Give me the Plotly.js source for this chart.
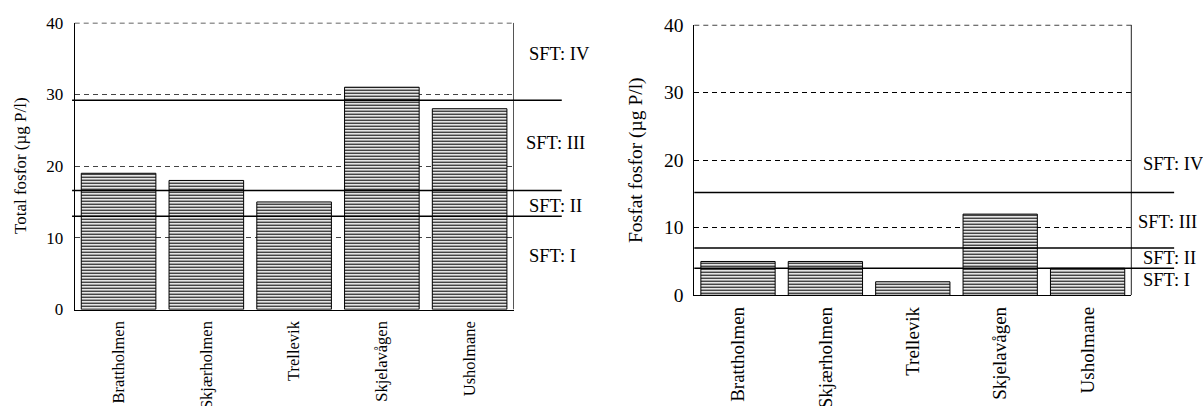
<!DOCTYPE html>
<html>
<head>
<meta charset="utf-8">
<script src="https://cdn.plot.ly/plotly-3.0.1.min.js"></script>
<style>
  html, body { margin: 0; padding: 0; background: #fff; }
  #chart { width: 1203px; height: 406px; }
</style>
</head>
<body>
<div id="chart"></div>
<script>
// ---- data ----
const categories = ['Brattholmen', 'Skjærholmen', 'Trellevik', 'Skjelavågen', 'Usholmane'];
const totalFosfor = [19, 18, 15, 31, 28];
const fosfatFosfor = [5, 5, 2, 12, 4];
const totalLimits = [13, 16.6, 29.2];
const fosfatLimits = [4, 7, 15.2];
const classLabels = ['SFT: I', 'SFT: II', 'SFT: III', 'SFT: IV'];
const yTicks = [0, 10, 20, 30, 40];

// ---- layout helpers (pixel -> paper) ----
const W = 1203, H = 406;
const px = v => v / W;
const py = v => 1 - v / H;

const FONT = '"Liberation Serif", "Times New Roman", Times, serif';

const pattern = {shape: '-', size: 3, solidity: 0.4, fgcolor: '#000', bgcolor: '#fff', fillmode: 'replace'};

const traces = [
  {
    type: 'bar', x: categories, y: totalFosfor, xaxis: 'x', yaxis: 'y',
    marker: {color: '#fff', line: {color: '#000', width: 1}, pattern: pattern},
    width: 0.85, hoverinfo: 'x+y', showlegend: false
  },
  {
    type: 'bar', x: categories, y: fosfatFosfor, xaxis: 'x2', yaxis: 'y2',
    marker: {color: '#fff', line: {color: '#000', width: 1}, pattern: pattern},
    width: 0.85, hoverinfo: 'x+y', showlegend: false
  }
];

const yMax = yTicks[yTicks.length - 1];
const shapes = [];
// frame: right edges and dashed top edges
shapes.push({type: 'line', xref: 'x domain', yref: 'y', x0: 1, x1: 1, y0: 0, y1: yMax, line: {color: '#555', width: 1}});
shapes.push({type: 'line', xref: 'x2 domain', yref: 'y2', x0: 1, x1: 1, y0: 0, y1: yMax, line: {color: '#222', width: 1}});
shapes.push({type: 'line', xref: 'x domain', yref: 'y', x0: 0, x1: 1, y0: yMax, y1: yMax, line: {color: '#333', width: 1.5, dash: '5px,4px'}});
shapes.push({type: 'line', xref: 'x2 domain', yref: 'y2', x0: 0, x1: 1, y0: yMax, y1: yMax, line: {color: '#444', width: 2, dash: '5px,4px'}});
// class limit lines
totalLimits.forEach(v => shapes.push({
  type: 'line', xref: 'x domain', yref: 'y', x0: -0.006, x1: 1.11, y0: v, y1: v,
  line: {color: '#000', width: 1.5}
}));
fosfatLimits.forEach(v => shapes.push({
  type: 'line', xref: 'x2 domain', yref: 'y2', x0: 0, x1: 1.098, y0: v, y1: v,
  line: {color: '#000', width: 1.5}
}));

// class label positions (layout)
const leftLabelY = [7.5, 14.4, 23.2, 35.6];
const leftLabelX = [527, 527, 524, 527];
const rightLabelY = [2.2, 5.5, 10.9, 19.4];
const rightLabelX = [1141, 1141, 1136, 1141];

const annotations = [];
classLabels.forEach((t, i) => {
  annotations.push({
    text: t, xref: 'paper', yref: 'y', x: px(leftLabelX[i]), y: leftLabelY[i],
    xanchor: 'left', yanchor: 'middle', showarrow: false,
    font: {family: FONT, size: 18.5, color: '#000'}
  });
  annotations.push({
    text: t, xref: 'paper', yref: 'y2', x: px(rightLabelX[i]), y: rightLabelY[i],
    xanchor: 'left', yanchor: 'middle', showarrow: false,
    font: {family: FONT, size: 18.5, color: '#000'}
  });
});
// axis titles
annotations.push({
  text: 'Total fosfor (µg P/l)', xref: 'paper', yref: 'paper', x: px(20), y: py(166),
  xanchor: 'center', yanchor: 'middle', textangle: -90, showarrow: false,
  font: {family: FONT, size: 17, color: '#000'}
});
annotations.push({
  text: 'Fosfat fosfor (µg P/l)', xref: 'paper', yref: 'paper', x: px(636), y: py(160),
  xanchor: 'center', yanchor: 'middle', textangle: -90, showarrow: false,
  font: {family: FONT, size: 19.5, color: '#000'}
});

const layout = {
  width: W, height: H,
  margin: {l: 0, r: 0, t: 0, b: 0},
  paper_bgcolor: '#fff', plot_bgcolor: '#fff',
  font: {family: FONT, color: '#000'},
  showlegend: false,
  bargap: 0.15,
  xaxis: {
    domain: [px(74.7), px(513.5)], anchor: 'y',
    type: 'category', categoryarray: categories,
    showline: true, linecolor: '#000', linewidth: 1,
    showgrid: false, ticks: '', tickangle: -90, ticklabelstandoff: 4,
    tickfont: {family: FONT, size: 16.5, color: '#000'}
  },
  yaxis: {
    domain: [py(309.5), py(22.7)], anchor: 'x',
    range: [0, 40], tickvals: yTicks, ticktext: yTicks.map(String),
    showline: true, linecolor: '#000', linewidth: 1,
    showgrid: true, gridcolor: '#444', griddash: '5px,4px', gridwidth: 1,
    zeroline: false, ticks: '', ticklabelstandoff: 7,
    tickfont: {family: FONT, size: 17, color: '#000'}
  },
  xaxis2: {
    domain: [px(694.3), px(1131.3)], anchor: 'y2',
    type: 'category', categoryarray: categories,
    showline: true, linecolor: '#000', linewidth: 1,
    showgrid: false, ticks: '', tickangle: -90, ticklabelstandoff: 3,
    tickfont: {family: FONT, size: 19, color: '#000'}
  },
  yaxis2: {
    domain: [py(295.3), py(24.7)], anchor: 'x2',
    range: [0, 40], tickvals: yTicks, ticktext: yTicks.map(String),
    showline: true, linecolor: '#000', linewidth: 1,
    showgrid: true, gridcolor: '#000', griddash: '5px,4px', gridwidth: 1,
    zeroline: false, ticks: '', ticklabelstandoff: 6,
    tickfont: {family: FONT, size: 19.5, color: '#000'}
  },
  shapes: shapes,
  annotations: annotations
};

Plotly.newPlot('chart', traces, layout, {displayModeBar: false, staticPlot: true});
</script>
</body>
</html>
